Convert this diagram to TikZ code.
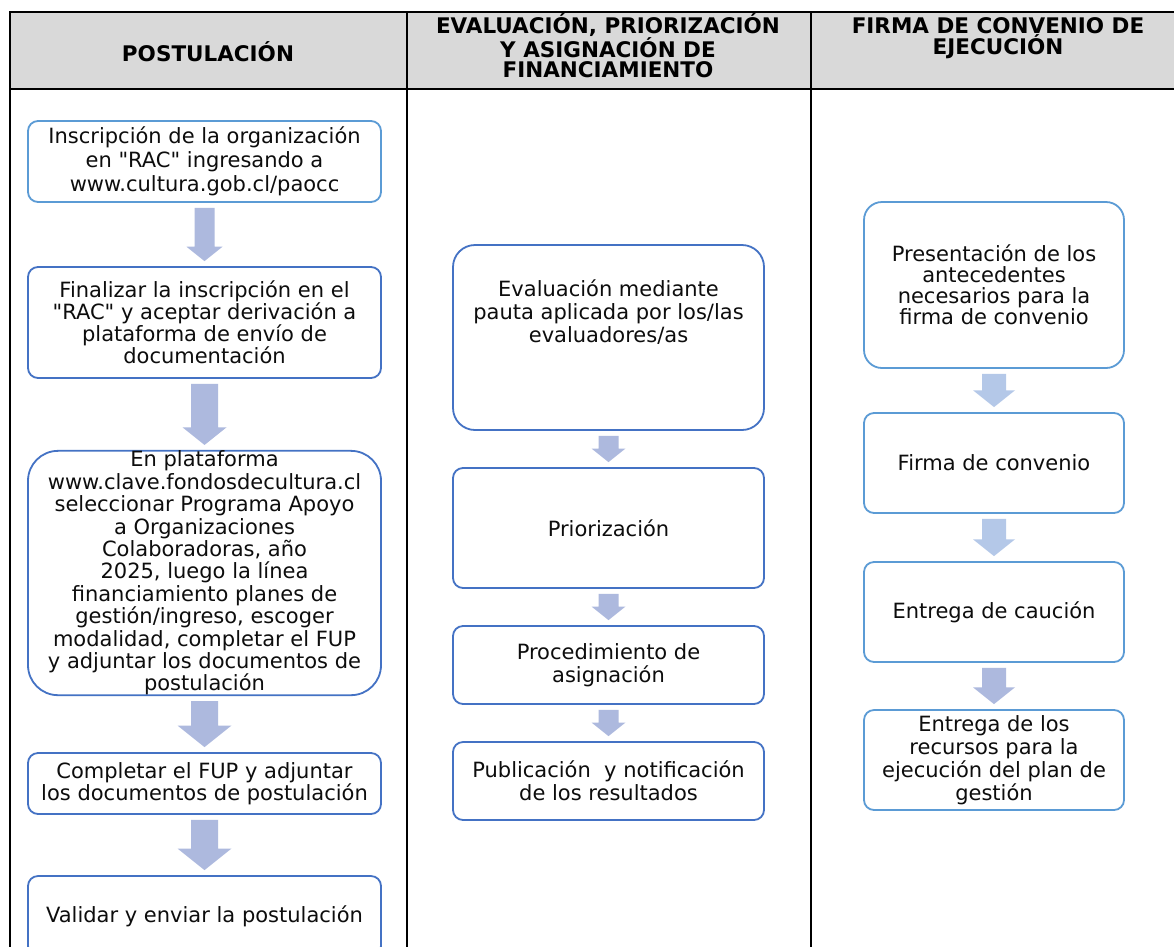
\documentclass[tikz,border=0pt]{standalone}
\usepackage{fontspec}
\setmainfont{DejaVu Sans}
\usetikzlibrary{calc}

\definecolor{azulclaro}{RGB}{91,155,213}
\definecolor{azul}{RGB}{68,114,196}
\definecolor{flechalila}{RGB}{173,185,222}
\definecolor{flechaceleste}{RGB}{180,200,232}
\definecolor{gris}{RGB}{217,217,217}
\definecolor{texto}{RGB}{13,13,13}

\tikzset{
  caja/.style={draw=azul, line width=1.8pt, rounded corners=10pt, fill=white,
    align=center, inner xsep=4pt, inner ysep=0pt, text=texto,
    font=\fontsize{21}{23}\selectfont},
  cajaclara/.style={caja, draw=azulclaro},
  titulo/.style={font=\bfseries\fontsize{21.5}{20}\selectfont, align=center,
    inner sep=0pt, text=black},
  tabla/.style={line width=2.2pt, black},
}

% flecha de bloque entre dos nodos: [color]{origen}{destino}{medio cuerpo}{media punta}
\newcommand{\flecha}[5][flechalila]{%
  \fill[#1] let \p1=(#2.south), \p2=(#3.north) in
    (\x1-#4,\y1-5pt) -- (\x1+#4,\y1-5pt) -- (\x1+#4,\y2+5pt+0.8*#5)
    -- (\x1+#5,\y2+5pt+0.8*#5) -- (\x1,\y2+5pt) -- (\x1-#5,\y2+5pt+0.8*#5)
    -- (\x1-#4,\y2+5pt+0.8*#5) -- cycle;
}
\newcommand{\comillas}[1]{\textquotedbl#1\textquotedbl}

\begin{document}
\begin{tikzpicture}[x=1pt,y=-1pt]
  \useasboundingbox (0,0) rectangle (1174,946);
  \fill[white] (0,0) rectangle (1174,946);
  \clip (0,0) rectangle (1174,946);

  %Table header
  \fill[gris] (10,12) rectangle (1180,89);
  \draw[tabla] (10,960) -- (10,12) -- (1180,12);
  \draw[tabla] (10,89) -- (1180,89);
  \draw[tabla] (407,12) -- (407,960);
  \draw[tabla] (811,12) -- (811,960);

  % Text Node
  \node[titulo] (hpost) at (208,52) {POSTULACIÓN};
  \node[titulo, anchor=north] (heval) at (608,13) {EVALUACIÓN, PRIORIZACIÓN\\Y ASIGNACIÓN DE\\FINANCIAMIENTO};
  \node[titulo, anchor=north] (hfirma) at (998,17) {FIRMA DE CONVENIO DE\\EJECUCIÓN};

  %Column 1
  \node[cajaclara, minimum width=353pt, minimum height=81pt, font=\fontsize{21}{24}\selectfont] (insc) at (204.5,161.5)
    {Inscripción de la organización\\en \comillas{RAC} ingresando a\\www.cultura.gob.cl/paocc};
  \node[caja, minimum width=353pt, minimum height=111pt, font=\fontsize{21}{22}\selectfont] (final) at (204.5,322.5)
    {Finalizar la inscripción en el\\\comillas{RAC} y aceptar derivación a\\plataforma de envío de\\documentación};
  \node[caja, rounded corners=30pt, minimum width=353pt, minimum height=244pt, font=\fontsize{21}{22.4}\selectfont] (plat) at (204.5,573)
    {En plataforma\\www.clave.fondosdecultura.cl\\seleccionar Programa Apoyo\\a Organizaciones\\Colaboradoras, año\\2025, luego la línea\\financiamiento planes de\\gestión/ingreso, escoger\\modalidad, completar el FUP\\y adjuntar los documentos de\\postulación};
  \node[caja, minimum width=353pt, minimum height=61pt, font=\fontsize{21}{21}\selectfont] (comp) at (204.5,783.5)
    {Completar el FUP y adjuntar\\los documentos de postulación};
  \node[caja, minimum width=353pt, minimum height=80pt] (valid) at (204.5,916)
    {Validar y enviar la postulación};

  %Column 2
  \node[caja, rounded corners=22pt, minimum width=311pt, minimum height=185pt] (eval) at (608.5,337.5)
    {Evaluación mediante\\pauta aplicada por los/las\\evaluadores/as\\\rule[-30pt]{0pt}{0pt}};
  \node[caja, minimum width=311pt, minimum height=120pt] (prio) at (608.5,528) {Priorización};
  \node[caja, minimum width=311pt, minimum height=78pt] (proc) at (608.5,665)
    {Procedimiento de\\asignación};
  \node[caja, minimum width=311pt, minimum height=78pt] (publ) at (608.5,781)
    {Publicación\ \ y notificación\\de los resultados};

  %Column 3
  \node[cajaclara, rounded corners=18pt, minimum width=260pt, minimum height=166pt, font=\fontsize{21}{21}\selectfont] (pres) at (994,285)
    {Presentación de los\\antecedentes\\necesarios para la\\firma de convenio};
  \node[cajaclara, minimum width=260pt, minimum height=100pt] (firma) at (994,463) {Firma de convenio};
  \node[cajaclara, minimum width=260pt, minimum height=100pt] (cauc) at (994,612) {Entrega de caución};
  \node[cajaclara, minimum width=260pt, minimum height=100pt] (recu) at (994,760)
    {Entrega de los\\recursos para la\\ejecución del plan de\\gestión};

  %Arrows
  \flecha{insc}{final}{10pt}{18pt}
  \flecha{final}{plat}{13.5pt}{22pt}
  \flecha{plat}{comp}{13.5pt}{27pt}
  \flecha{comp}{valid}{13.5pt}{27pt}
  \flecha{eval}{prio}{10pt}{17pt}
  \flecha{prio}{proc}{10pt}{17pt}
  \flecha{proc}{publ}{10pt}{17pt}
  \flecha[flechaceleste]{pres}{firma}{12pt}{21pt}
  \flecha[flechaceleste]{firma}{cauc}{12pt}{21pt}
  \flecha{cauc}{recu}{12pt}{21pt}
\end{tikzpicture}
\end{document}
